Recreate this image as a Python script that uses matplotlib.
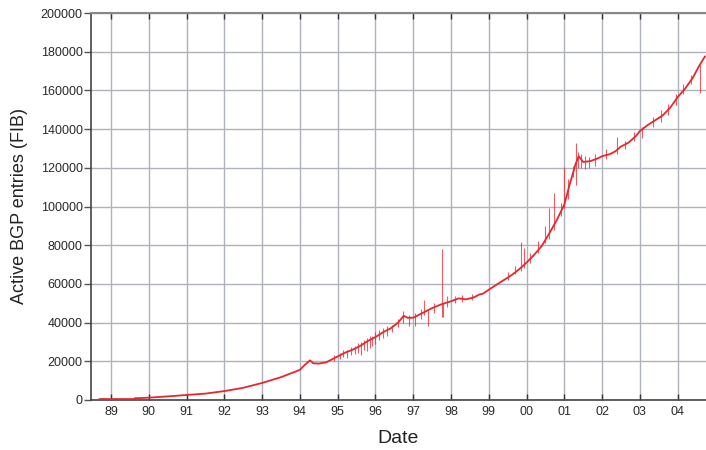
import matplotlib
matplotlib.use("Agg")
import matplotlib.pyplot as plt

# Base curve (decimal year, active BGP entries)
dates = [1988.70, 1989.62, 1989.63, 1990.0, 1990.3, 1990.6, 1991.0, 1991.5, 1992.0,
         1992.5, 1993.0, 1993.5, 1993.9, 1994.0, 1994.15, 1994.27, 1994.35, 1994.5,
         1994.7, 1994.85, 1995.0, 1995.2, 1995.4, 1995.6, 1995.8, 1996.0, 1996.2,
         1996.4, 1996.6, 1996.75, 1996.85, 1997.0, 1997.1, 1997.3, 1997.5, 1997.75,
         1998.0, 1998.2, 1998.4, 1998.6, 1998.75, 1998.85, 1999.0, 1999.2, 1999.4,
         1999.6, 1999.8, 2000.0, 2000.2, 2000.4, 2000.6, 2000.8, 2001.0, 2001.15,
         2001.3, 2001.38, 2001.5, 2001.7, 2001.9, 2002.0, 2002.2, 2002.35, 2002.5,
         2002.7, 2002.9, 2003.0, 2003.2, 2003.4, 2003.6, 2003.8, 2004.0, 2004.2,
         2004.4, 2004.55, 2004.72]
entries = [500, 500, 900, 1200, 1600, 2000, 2600, 3300, 4600,
           6300, 8800, 11800, 14800, 15600, 18500, 20500, 19000, 18800,
           19500, 21000, 22500, 24500, 26000, 28000, 30500, 32500, 35000,
           37000, 40000, 43500, 42500, 42500, 43500, 45500, 47500, 49500,
           51000, 52500, 52000, 53000, 54500, 55000, 57000, 59500, 62000,
           64500, 67500, 71000, 75000, 79500, 86000, 93000, 101000, 112000,
           122000, 126000, 123000, 123500, 125000, 126000, 127000, 128500, 131000,
           133000, 136500, 139000, 142000, 144500, 147000, 151000, 156500, 161000,
           166500, 172000, 177500]

# Short-lived excursions (date, low, high)
spike_dates = [1994.9, 1995.05, 1995.15, 1995.25, 1995.35, 1995.45, 1995.55, 1995.62,
               1995.7, 1995.78, 1995.85, 1995.92, 1996.0, 1996.1, 1996.2, 1996.3,
               1996.45, 1996.6, 1996.72, 1996.9, 1997.05, 1997.2, 1997.29, 1997.38,
               1997.55, 1997.75, 1997.8, 1997.9, 1998.1, 1998.3, 1998.55, 1999.5,
               1999.7, 1999.85, 1999.93, 2000.1, 2000.3, 2000.5, 2000.6, 2000.72,
               2000.9, 2001.0, 2001.1, 2001.22, 2001.3, 2001.35, 2001.45, 2001.55,
               2001.65, 2001.8, 2002.1, 2002.4, 2002.6, 2002.85, 2003.05, 2003.35,
               2003.55, 2003.75, 2003.95, 2004.15, 2004.35, 2004.6]
spike_lo = [20000, 21000, 22000, 21500, 23000, 24000, 24500, 23500,
            26000, 25500, 27000, 28000, 29000, 31000, 32000, 33000,
            35000, 37500, 40000, 38000, 38000, 42000, 44000, 38200,
            45000, 43000, 43000, 48000, 50000, 50500, 51500, 62000,
            65000, 66500, 68000, 71000, 76000, 81000, 83000, 88000,
            95000, 99000, 104000, 115000, 111000, 120000, 120000, 119500,
            120000, 121000, 124500, 127000, 129500, 134000, 135500, 141000,
            143500, 147500, 152500, 158000, 163500, 158500]
spike_hi = [23000, 24500, 26000, 26000, 27500, 28000, 29500, 30000,
            31000, 32000, 33000, 33000, 35000, 36000, 37000, 38500,
            39000, 42000, 46000, 44000, 45000, 47000, 51700, 46500,
            50000, 78000, 50000, 53500, 54000, 54500, 55000, 66000,
            69000, 81800, 78400, 76000, 82000, 90000, 99000, 107000,
            102000, 120500, 114000, 121000, 132600, 128000, 127000, 126000,
            125500, 127000, 129500, 136000, 134000, 138500, 141000, 146500,
            150000, 153000, 158000, 163500, 168000, 173000]

year_ticks = list(range(1989, 2005))
year_labels = ["89", "90", "91", "92", "93", "94", "95", "96", "97", "98",
               "99", "00", "01", "02", "03", "04"]
y_ticks = list(range(0, 200001, 20000))

plt.rcParams['font.family'] = ['Liberation Sans', 'DejaVu Sans']

fig = plt.figure(figsize=(7.06, 4.5), dpi=100)
ax = fig.add_axes([91/706, 50/450, 1 - 91/706, 387/450])

red = '#e8262d'
ax.vlines(spike_dates, spike_lo, spike_hi, color=red, lw=0.8, alpha=0.75, zorder=3)
ax.plot(dates, entries, color=red, lw=1.3, zorder=4)

ax.set_xlim(1988.472, 2004.75)
ax.set_ylim(0, 200000)
ax.set_xticks(year_ticks)
ax.set_xticklabels(year_labels)
ax.set_yticks(y_ticks)
ax.set_yticklabels([str(v) for v in y_ticks])

ax.grid(True, color='#aeb2ba', lw=1.0, zorder=0)
ax.set_axisbelow(True)

ax.tick_params(axis='x', direction='in', top=True, length=4.5, width=1.0,
               color='#333333', labelsize=9, pad=4, labelcolor='#2a2a2a')
ax.tick_params(axis='y', direction='out', length=5, width=1.0,
               color='#555555', labelsize=9, pad=1, labelcolor='#2a2a2a')

for s in ['left', 'bottom']:
    ax.spines[s].set_color('#444444')
    ax.spines[s].set_linewidth(1.2)
ax.spines['top'].set_color('#888888')
ax.spines['top'].set_linewidth(1.5)
ax.spines['right'].set_visible(False)

ax.set_xlabel('Date', fontsize=14, color='#222222', labelpad=9)
ax.set_ylabel('Active BGP entries (FIB)', fontsize=13, color='#222222', labelpad=9)

fig.savefig('out.png', dpi=100)
